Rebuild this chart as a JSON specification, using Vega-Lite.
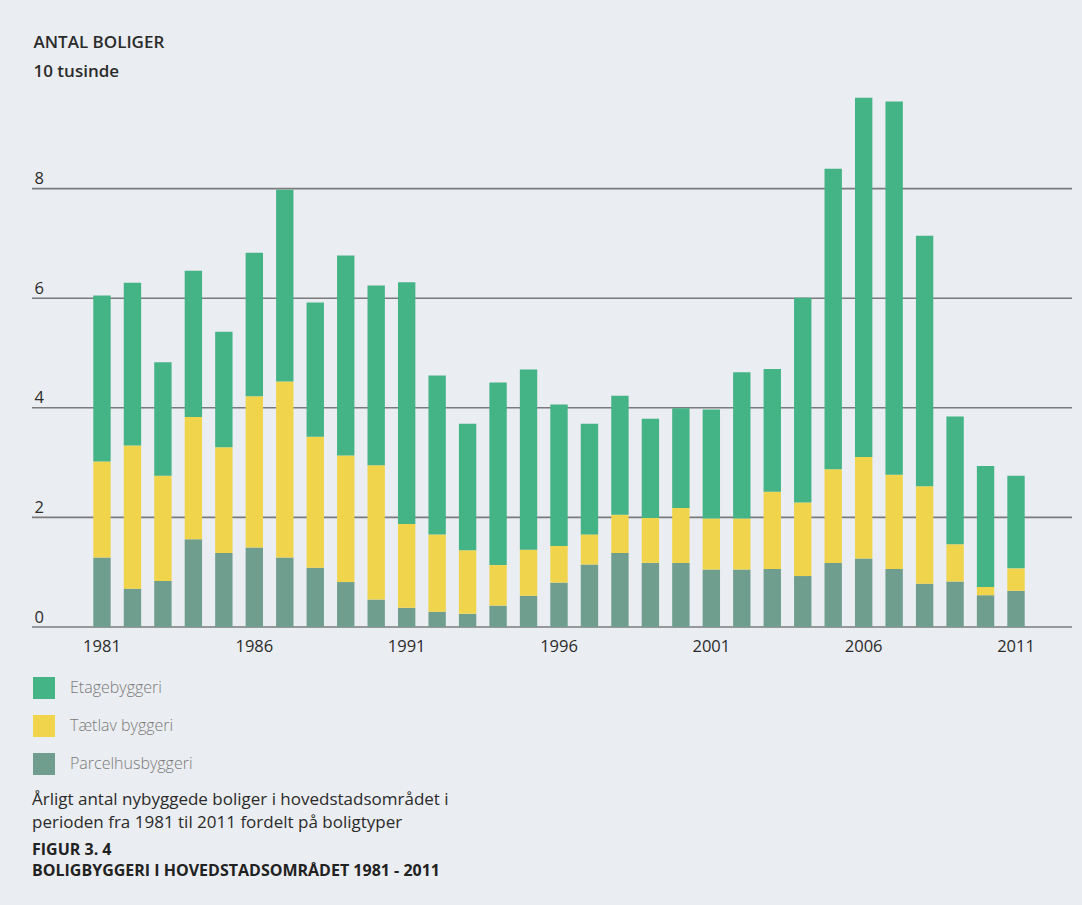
{
  "$schema": "https://vega.github.io/schema/vega-lite/v6.json",
  "autosize": {"type": "none"},
  "width": 1040,
  "height": 548,
  "padding": {"left": 32, "top": 79, "right": 10, "bottom": 278},
  "background": "#eaedf1",
  "config": {
    "font": "Open Sans",
    "view": {"stroke": null},
    "axis": {"labelFont": "Open Sans", "titleFont": "Open Sans"},
    "legend": {"labelFont": "Open Sans"}
  },
  "title": {
    "text": ["Årligt antal nybyggede boliger i hovedstadsområdet i", "perioden fra 1981 til 2011 fordelt på boligtyper"],
    "subtitle": ["FIGUR 3. 4", "BOLIGBYGGERI I HOVEDSTADSOMRÅDET 1981 - 2011"],
    "orient": "bottom",
    "anchor": "start",
    "frame": "group",
    "offset": 17,
    "font": "Open Sans",
    "fontSize": 17,
    "fontWeight": "normal",
    "color": "#2b2b2b",
    "lineHeight": 22.5,
    "subtitleFont": "Open Sans",
    "subtitleFontSize": 16,
    "subtitleFontWeight": "bold",
    "subtitleColor": "#222222",
    "subtitleLineHeight": 21,
    "subtitlePadding": 10
  },
  "layer": [
    {
      "data": {
        "values": [{"value": 0}, {"value": 2}, {"value": 4}, {"value": 6}, {"value": 8}]
      },
      "mark": {"type": "rule", "color": "#7b7b7d", "strokeWidth": 1.6},
      "encoding": {
        "y": {
          "field": "value",
          "type": "quantitative",
          "scale": {"domain": [0, 10]},
          "axis": {
            "values": [0, 2, 4, 6, 8],
            "title": ["ANTAL BOLIGER", "10 tusinde"],
            "titleAngle": 0,
            "titleAlign": "left",
            "titleBaseline": "alphabetic",
            "titleX": 1,
            "titleY": -32,
            "titleFontSize": 17,
            "titleFontWeight": 600,
            "titleColor": "#2b2b2b",
            "titleLineHeight": 29,
            "labelAlign": "left",
            "labelBaseline": "alphabetic",
            "labelPadding": -2,
            "labelOffset": -5,
            "labelFontSize": 16.5,
            "labelColor": "#2b2b2b",
            "ticks": false,
            "domain": false,
            "grid": false
          }
        }
      }
    },
    {
      "data": {
        "values": [
          {"year": "1981", "type": "Parcelhusbyggeri", "value": 1.27}, {"year": "1981", "type": "Tætlav byggeri", "value": 1.75}, {"year": "1981", "type": "Etagebyggeri", "value": 3.03},
          {"year": "1982", "type": "Parcelhusbyggeri", "value": 0.70}, {"year": "1982", "type": "Tætlav byggeri", "value": 2.61}, {"year": "1982", "type": "Etagebyggeri", "value": 2.97},
          {"year": "1983", "type": "Parcelhusbyggeri", "value": 0.84}, {"year": "1983", "type": "Tætlav byggeri", "value": 1.92}, {"year": "1983", "type": "Etagebyggeri", "value": 2.07},
          {"year": "1984", "type": "Parcelhusbyggeri", "value": 1.60}, {"year": "1984", "type": "Tætlav byggeri", "value": 2.23}, {"year": "1984", "type": "Etagebyggeri", "value": 2.67},
          {"year": "1985", "type": "Parcelhusbyggeri", "value": 1.35}, {"year": "1985", "type": "Tætlav byggeri", "value": 1.93}, {"year": "1985", "type": "Etagebyggeri", "value": 2.11},
          {"year": "1986", "type": "Parcelhusbyggeri", "value": 1.45}, {"year": "1986", "type": "Tætlav byggeri", "value": 2.76}, {"year": "1986", "type": "Etagebyggeri", "value": 2.62},
          {"year": "1987", "type": "Parcelhusbyggeri", "value": 1.27}, {"year": "1987", "type": "Tætlav byggeri", "value": 3.21}, {"year": "1987", "type": "Etagebyggeri", "value": 3.50},
          {"year": "1988", "type": "Parcelhusbyggeri", "value": 1.08}, {"year": "1988", "type": "Tætlav byggeri", "value": 2.39}, {"year": "1988", "type": "Etagebyggeri", "value": 2.45},
          {"year": "1989", "type": "Parcelhusbyggeri", "value": 0.82}, {"year": "1989", "type": "Tætlav byggeri", "value": 2.31}, {"year": "1989", "type": "Etagebyggeri", "value": 3.65},
          {"year": "1990", "type": "Parcelhusbyggeri", "value": 0.50}, {"year": "1990", "type": "Tætlav byggeri", "value": 2.45}, {"year": "1990", "type": "Etagebyggeri", "value": 3.28},
          {"year": "1991", "type": "Parcelhusbyggeri", "value": 0.35}, {"year": "1991", "type": "Tætlav byggeri", "value": 1.53}, {"year": "1991", "type": "Etagebyggeri", "value": 4.41},
          {"year": "1992", "type": "Parcelhusbyggeri", "value": 0.28}, {"year": "1992", "type": "Tætlav byggeri", "value": 1.41}, {"year": "1992", "type": "Etagebyggeri", "value": 2.90},
          {"year": "1993", "type": "Parcelhusbyggeri", "value": 0.24}, {"year": "1993", "type": "Tætlav byggeri", "value": 1.16}, {"year": "1993", "type": "Etagebyggeri", "value": 2.31},
          {"year": "1994", "type": "Parcelhusbyggeri", "value": 0.39}, {"year": "1994", "type": "Tætlav byggeri", "value": 0.74}, {"year": "1994", "type": "Etagebyggeri", "value": 3.33},
          {"year": "1995", "type": "Parcelhusbyggeri", "value": 0.57}, {"year": "1995", "type": "Tætlav byggeri", "value": 0.84}, {"year": "1995", "type": "Etagebyggeri", "value": 3.29},
          {"year": "1996", "type": "Parcelhusbyggeri", "value": 0.81}, {"year": "1996", "type": "Tætlav byggeri", "value": 0.67}, {"year": "1996", "type": "Etagebyggeri", "value": 2.58},
          {"year": "1997", "type": "Parcelhusbyggeri", "value": 1.14}, {"year": "1997", "type": "Tætlav byggeri", "value": 0.55}, {"year": "1997", "type": "Etagebyggeri", "value": 2.02},
          {"year": "1998", "type": "Parcelhusbyggeri", "value": 1.35}, {"year": "1998", "type": "Tætlav byggeri", "value": 0.70}, {"year": "1998", "type": "Etagebyggeri", "value": 2.17},
          {"year": "1999", "type": "Parcelhusbyggeri", "value": 1.17}, {"year": "1999", "type": "Tætlav byggeri", "value": 0.82}, {"year": "1999", "type": "Etagebyggeri", "value": 1.81},
          {"year": "2000", "type": "Parcelhusbyggeri", "value": 1.17}, {"year": "2000", "type": "Tætlav byggeri", "value": 1.00}, {"year": "2000", "type": "Etagebyggeri", "value": 1.82},
          {"year": "2001", "type": "Parcelhusbyggeri", "value": 1.05}, {"year": "2001", "type": "Tætlav byggeri", "value": 0.93}, {"year": "2001", "type": "Etagebyggeri", "value": 1.99},
          {"year": "2002", "type": "Parcelhusbyggeri", "value": 1.05}, {"year": "2002", "type": "Tætlav byggeri", "value": 0.93}, {"year": "2002", "type": "Etagebyggeri", "value": 2.67},
          {"year": "2003", "type": "Parcelhusbyggeri", "value": 1.06}, {"year": "2003", "type": "Tætlav byggeri", "value": 1.41}, {"year": "2003", "type": "Etagebyggeri", "value": 2.24},
          {"year": "2004", "type": "Parcelhusbyggeri", "value": 0.93}, {"year": "2004", "type": "Tætlav byggeri", "value": 1.34}, {"year": "2004", "type": "Etagebyggeri", "value": 3.74},
          {"year": "2005", "type": "Parcelhusbyggeri", "value": 1.17}, {"year": "2005", "type": "Tætlav byggeri", "value": 1.71}, {"year": "2005", "type": "Etagebyggeri", "value": 5.48},
          {"year": "2006", "type": "Parcelhusbyggeri", "value": 1.25}, {"year": "2006", "type": "Tætlav byggeri", "value": 1.85}, {"year": "2006", "type": "Etagebyggeri", "value": 6.56},
          {"year": "2007", "type": "Parcelhusbyggeri", "value": 1.06}, {"year": "2007", "type": "Tætlav byggeri", "value": 1.72}, {"year": "2007", "type": "Etagebyggeri", "value": 6.81},
          {"year": "2008", "type": "Parcelhusbyggeri", "value": 0.79}, {"year": "2008", "type": "Tætlav byggeri", "value": 1.78}, {"year": "2008", "type": "Etagebyggeri", "value": 4.57},
          {"year": "2009", "type": "Parcelhusbyggeri", "value": 0.83}, {"year": "2009", "type": "Tætlav byggeri", "value": 0.68}, {"year": "2009", "type": "Etagebyggeri", "value": 2.33},
          {"year": "2010", "type": "Parcelhusbyggeri", "value": 0.58}, {"year": "2010", "type": "Tætlav byggeri", "value": 0.15}, {"year": "2010", "type": "Etagebyggeri", "value": 2.21},
          {"year": "2011", "type": "Parcelhusbyggeri", "value": 0.66}, {"year": "2011", "type": "Tætlav byggeri", "value": 0.41}, {"year": "2011", "type": "Etagebyggeri", "value": 1.69}
        ]
      },
      "transform": [
        {"calculate": "indexof(['Parcelhusbyggeri', 'Tætlav byggeri', 'Etagebyggeri'], datum.type)", "as": "stackOrder"}
      ],
      "mark": {"type": "bar"},
      "encoding": {
        "x": {
          "field": "year",
          "type": "ordinal",
          "scale": {"range": [61.3, 992.7], "paddingInner": 0.43, "paddingOuter": 0},
          "axis": {
            "title": null,
            "values": ["1981", "1986", "1991", "1996", "2001", "2006", "2011"],
            "labelAngle": 0,
            "labelFontSize": 16.5,
            "labelColor": "#2b2b2b",
            "labelPadding": 11,
            "ticks": false,
            "domain": false
          }
        },
        "y": {
          "field": "value",
          "type": "quantitative",
          "stack": "zero",
          "scale": {"domain": [0, 10]},
          "axis": {
            "values": [0, 2, 4, 6, 8],
            "title": ["ANTAL BOLIGER", "10 tusinde"],
            "titleAngle": 0,
            "titleAlign": "left",
            "titleBaseline": "alphabetic",
            "titleX": 1,
            "titleY": -32,
            "titleFontSize": 17,
            "titleFontWeight": 600,
            "titleColor": "#2b2b2b",
            "titleLineHeight": 29,
            "labelAlign": "left",
            "labelBaseline": "alphabetic",
            "labelPadding": -2,
            "labelOffset": -5,
            "labelFontSize": 16.5,
            "labelColor": "#2b2b2b",
            "ticks": false,
            "domain": false,
            "grid": false
          }
        },
        "color": {
          "field": "type",
          "type": "nominal",
          "scale": {
            "domain": ["Etagebyggeri", "Tætlav byggeri", "Parcelhusbyggeri"],
            "range": ["#44b386", "#f0d44c", "#6f9e8e"]
          },
          "legend": {
            "title": null,
            "orient": "none",
            "legendX": 1,
            "legendY": 598,
            "direction": "vertical",
            "symbolType": "square",
            "symbolSize": 484,
            "symbolStrokeWidth": 0,
            "symbolOpacity": 1,
            "rowPadding": 16,
            "labelOffset": 15,
            "labelFontSize": 16,
            "labelFontWeight": 300,
            "labelColor": "#7a7a7a"
          }
        },
        "order": {"field": "stackOrder", "type": "quantitative"}
      }
    }
  ]
}
